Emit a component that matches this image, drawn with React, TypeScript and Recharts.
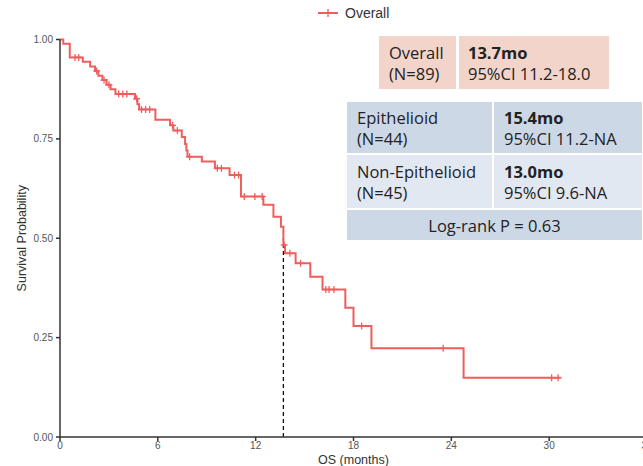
import React from "react";
import {
  ComposedChart,
  Line,
  Scatter,
  XAxis,
  YAxis,
  ReferenceLine,
} from "recharts";

// Kaplan-Meier step curve (time in months, survival probability)
const stepTimes = [
  0, 0.2, 0.6, 1.4, 1.85, 2.15, 2.35, 2.6, 2.85, 3.1, 3.4, 4.6, 4.75, 4.85,
  5.85, 6.75, 6.95, 7.47, 7.67, 7.75, 7.82, 8.7, 9.5, 10.4, 11.1, 12.47, 13.09,
  13.55, 13.7, 13.8, 14.45, 15.35, 16.1, 17.5, 18.0, 19.1, 24.75, 30.7,
];
const stepSurv = [
  1.0, 0.989, 0.955, 0.944, 0.932, 0.921, 0.909, 0.898, 0.886, 0.875, 0.863,
  0.851, 0.837, 0.824, 0.798, 0.784, 0.771, 0.755, 0.737, 0.721, 0.705, 0.693,
  0.676, 0.659, 0.605, 0.584, 0.554, 0.529, 0.483, 0.462, 0.437, 0.403, 0.371,
  0.325, 0.279, 0.223, 0.149, 0.149,
];

// censored observations
const censorTimes = [
  0.92, 1.15, 2.25, 2.7, 3.0, 3.6, 3.85, 4.1, 4.7, 5.0, 5.25, 5.5, 6.9, 7.2,
  7.95, 9.65, 9.9, 10.7, 10.95, 11.3, 11.95, 12.4, 13.75, 14.1, 14.75, 16.3,
  16.5, 16.8, 18.5, 23.5, 30.15, 30.55,
];
const censorSurv = [
  0.955, 0.955, 0.921, 0.898, 0.886, 0.863, 0.863, 0.863, 0.851, 0.824, 0.824,
  0.824, 0.784, 0.771, 0.705, 0.676, 0.676, 0.659, 0.659, 0.605, 0.605, 0.605,
  0.483, 0.462, 0.437, 0.371, 0.371, 0.371, 0.279, 0.223, 0.149, 0.149,
];

const medianOS = 13.7;
const xTicks = [0, 6, 12, 18, 24, 30, 36];
const yTicks = [0, 0.25, 0.5, 0.75, 1];

const steps = stepTimes.map((t, i) => ({ t, s: stepSurv[i] }));
const censors = censorTimes.map((t, i) => ({ t, s: censorSurv[i] }));

const RED = "#f05d5d";
const AXIS_FONT = "'Liberation Sans', Arial";

const Plus = (props: any) => {
  const { cx, cy } = props;
  if (cx == null || cy == null) return null;
  return (
    <g stroke={RED} strokeWidth={1.3}>
      <line x1={cx - 3.5} y1={cy} x2={cx + 3.5} y2={cy} />
      <line x1={cx} y1={cy - 3.5} x2={cx} y2={cy + 3.5} />
    </g>
  );
};

const cell = (bg: string): React.CSSProperties => ({
  position: "absolute",
  background: bg,
  boxSizing: "border-box",
  display: "flex",
  flexDirection: "column",
  justifyContent: "center",
  lineHeight: "21px",
  fontSize: 16.5,
  color: "#222",
  whiteSpace: "nowrap",
});

const PINK = "#f2d4ca";
const BLUE_DARK = "#cdd8e7";
const BLUE_LIGHT = "#e2e8f1";

export default function App() {
  return (
    <div
      style={{
        position: "fixed",
        left: 0,
        top: 0,
        width: 643,
        height: 466,
        overflow: "hidden",
        background: "#fff",
        fontFamily: "'Open Sans', sans-serif",
      }}
    >
      <ComposedChart
        width={660}
        height={466}
        margin={{ top: 39.5, right: 13, bottom: 0, left: 0 }}
      >
        <XAxis
          dataKey="t"
          type="number"
          domain={[0, 36]}
          ticks={xTicks}
          allowDataOverflow
          height={29}
          tickSize={4}
          tickMargin={1}
          stroke="#333"
          strokeWidth={1.5}
          tick={{ fill: "#555", fontSize: 10, fontFamily: AXIS_FONT }}
          label={{
            value: "OS (months)",
            position: "insideBottom",
            offset: 2,
            style: { fill: "#333", fontSize: 12.5, fontFamily: AXIS_FONT },
          }}
        />
        <YAxis
          type="number"
          domain={[0, 1]}
          ticks={yTicks}
          width={60}
          tickSize={4}
          tickMargin={3}
          stroke="#333"
          strokeWidth={1.5}
          tickFormatter={(v: number) => v.toFixed(2)}
          tick={{ fill: "#555", fontSize: 10, fontFamily: AXIS_FONT }}
          label={{
            value: "Survival Probability",
            angle: -90,
            position: "insideLeft",
            offset: 22,
            style: {
              textAnchor: "middle",
              fill: "#333",
              fontSize: 12.5,
              fontFamily: AXIS_FONT,
            },
          }}
        />
        <ReferenceLine
          segment={[
            { x: medianOS, y: 0 },
            { x: medianOS, y: 0.5 },
          ]}
          stroke="#111"
          strokeWidth={1.3}
          strokeDasharray="4 3"
        />
        <Line
          data={steps}
          dataKey="s"
          type="stepAfter"
          stroke={RED}
          strokeWidth={2}
          dot={false}
          activeDot={false}
          isAnimationActive={false}
        />
        <Scatter
          data={censors}
          dataKey="s"
          shape={<Plus />}
          isAnimationActive={false}
        />
      </ComposedChart>

      {/* legend */}
      <div
        style={{
          position: "absolute",
          left: 316,
          top: 4,
          display: "flex",
          alignItems: "center",
          fontFamily: AXIS_FONT,
          fontSize: 14,
          color: "#333",
        }}
      >
        <svg width={24} height={18}>
          <line x1={2} y1={9} x2={22} y2={9} stroke={RED} strokeWidth={2} />
          <line x1={12} y1={5} x2={12} y2={13} stroke={RED} strokeWidth={1.3} />
        </svg>
        <span style={{ marginLeft: 5 }}>Overall</span>
      </div>

      {/* overall median table */}
      <div style={{ ...cell(PINK), left: 379, top: 36, width: 77, height: 53, paddingLeft: 10 }}>
        <div>Overall</div>
        <div>(N=89)</div>
      </div>
      <div style={{ ...cell(PINK), left: 459, top: 36, width: 150, height: 53, paddingLeft: 9 }}>
        <div style={{ fontWeight: 700 }}>13.7mo</div>
        <div>95%CI 11.2-18.0</div>
      </div>

      {/* histology table */}
      <div style={{ ...cell(BLUE_DARK), left: 347, top: 102, width: 145, height: 51, paddingLeft: 10 }}>
        <div>Epithelioid</div>
        <div>(N=44)</div>
      </div>
      <div style={{ ...cell(BLUE_DARK), left: 494, top: 102, width: 148, height: 51, paddingLeft: 10 }}>
        <div style={{ fontWeight: 700 }}>15.4mo</div>
        <div>95%CI 11.2-NA</div>
      </div>
      <div style={{ ...cell(BLUE_LIGHT), left: 347, top: 155, width: 145, height: 53, paddingLeft: 10 }}>
        <div>Non-Epithelioid</div>
        <div>(N=45)</div>
      </div>
      <div style={{ ...cell(BLUE_LIGHT), left: 494, top: 155, width: 148, height: 53, paddingLeft: 10 }}>
        <div style={{ fontWeight: 700 }}>13.0mo</div>
        <div>95%CI 9.6-NA</div>
      </div>
      <div
        style={{
          ...cell(BLUE_DARK),
          left: 347,
          top: 210,
          width: 295,
          height: 30,
          alignItems: "center",
        }}
      >
        <div>Log-rank P = 0.63</div>
      </div>
    </div>
  );
}
